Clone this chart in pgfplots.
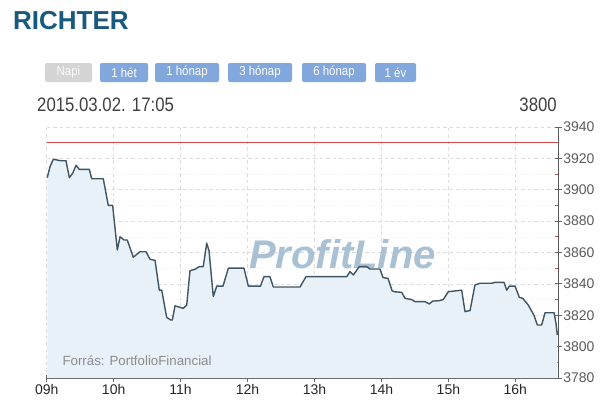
\documentclass[border=0pt]{standalone}
\usepackage{pgfplots}
\pgfplotsset{compat=1.18}
\usepackage{pgfplotstable}
\usepackage{fontspec}
\setmainfont{Liberation Sans}
\definecolor{titleblue}{HTML}{17597F}
\definecolor{btnblue}{HTML}{82A7DC}
\definecolor{btngray}{HTML}{D4D4D4}
\definecolor{linecol}{HTML}{3E5566}
\definecolor{fillcol}{HTML}{E8F0F8}
\definecolor{redcol}{HTML}{D04545}
\definecolor{gridcol}{HTML}{DCDCDC}
\definecolor{wmcol}{HTML}{A9C1D3}
\definecolor{labcol}{HTML}{5A5A5A}

\pgfplotstableread{
m v
0.5 3907.7
3.0 3914.7
5.9 3919.4
9.0 3919.0
12.5 3918.5
17.3 3918.5
20.3 3907.7
23.3 3910.5
26.3 3915.6
29.2 3913.0
38.2 3913.0
40.3 3907.0
50.7 3907.0
55.2 3890.0
59.1 3890.0
63.3 3861.6
65.7 3870.0
69.3 3868.0
72.2 3868.0
77.6 3857.0
83.6 3860.5
89.0 3860.5
92.6 3855.7
97.1 3855.0
100.9 3836.0
103.1 3836.0
107.5 3818.7
111.1 3817.0
112.6 3817.0
115.0 3826.0
122.4 3824.4
125.5 3826.5
128.4 3848.4
132.9 3849.3
136.8 3851.0
140.3 3851.0
143.4 3866.0
145.5 3861.0
149.3 3832.0
152.4 3838.6
158.0 3838.6
162.8 3850.0
176.8 3850.0
180.7 3838.6
191.6 3838.6
194.7 3844.6
200.1 3844.6
203.1 3838.0
227.0 3838.0
232.4 3844.6
268.9 3844.6
271.8 3847.8
274.8 3845.7
280.2 3851.0
286.8 3851.0
289.7 3849.5
298.7 3849.5
301.4 3844.0
305.9 3843.5
309.5 3835.7
311.3 3835.0
318.2 3834.6
321.1 3830.8
327.1 3830.0
330.1 3828.7
339.0 3828.7
342.9 3827.2
345.9 3829.0
351.9 3829.3
355.4 3830.0
359.9 3835.0
371.9 3836.0
374.9 3822.3
379.4 3823.0
383.8 3839.3
388.3 3840.4
398.8 3840.4
401.8 3841.0
409.8 3841.0
412.3 3836.0
414.6 3838.6
419.7 3838.6
423.6 3831.4
426.6 3830.8
431.6 3826.5
436.7 3820.0
439.7 3813.8
443.6 3813.8
446.6 3821.6
454.7 3821.6
456.4 3815.0
457.6 3807.4
}\prices

\begin{document}
\begin{tikzpicture}
\path[use as bounding box] (0pt,0pt) rectangle (608pt,-418pt);
% title
\node[anchor=base west, inner sep=0, text=titleblue, font=\bfseries\fontsize{26}{26}\selectfont] at (13pt,-29.5pt) {RICHTER};
% buttons
\fill[btngray, rounded corners=2pt] (45pt,-63pt) rectangle (92pt,-82pt);
\node[text=white!96!gray, font=\fontsize{13}{13}\selectfont] at (68.5pt,-72.5pt) {\scalebox{0.88}[1]{Napi}};
\foreach \a/\b/\t in {100/148/{1 hét}, 155/219/{1 hónap}, 228/292/{3 hónap}, 302/366/{6 hónap}, 375/416/{1 év}}{
  \fill[btnblue, rounded corners=2pt] (\a pt,-63pt) rectangle (\b pt,-82pt);
  \pgfmathsetmacro{\c}{(\a+\b)/2}
  \node[text=white, font=\fontsize{13}{13}\selectfont] at (\c pt,-72.5pt) {\scalebox{0.88}[1]{\t}};
}
% date and price
\node[anchor=base west, inner sep=0, text=black!75, font=\fontsize{19.5}{20}\selectfont] at (37pt,-111.5pt) {\scalebox{0.86}[1]{2015.03.02. 17:05}};
\node[anchor=base east, inner sep=0, text=black!75, font=\fontsize{19.5}{20}\selectfont] at (557pt,-111.5pt) {\scalebox{0.86}[1]{3800}};

\begin{axis}[
  at={(46.7pt,-378pt)}, anchor=south west,
  scale only axis, width=511.6pt, height=251pt,
  xmin=0, xmax=458.5, ymin=3780, ymax=3940,
  axis x line*=bottom, axis y line*=right,
  axis line style={draw=black!65, line width=0.8pt},
  xtick={0,60,...,420},
  xticklabels={09h,10h,11h,12h,13h,14h,15h,16h},
  ytick={3780,3800,...,3940},
  minor y tick num=1,
  xmajorgrids, ymajorgrids, yminorgrids,
  major grid style={draw=gridcol, dash pattern=on 3.5pt off 3pt, line width=0.6pt},
  minor grid style={draw=gridcol!55, dash pattern=on 1pt off 2pt, line width=0.5pt},
  tick align=center,
  major tick length=7pt,
  minor tick length=3pt,
  major tick style={draw=black!60, line width=0.8pt},
  minor tick style={draw=redcol, line width=0.8pt, xshift=-1.5pt},
  /pgf/number format/assume math mode=true,
  /pgf/number format/1000 sep={},
  yticklabel style={font=\fontsize{14}{14}\selectfont, text=labcol, anchor=west, xshift=-2pt},
  xticklabel style={font=\fontsize{14}{14}\selectfont, text=black!85, yshift=1pt},
  clip=false,
]
\addplot[fill=fillcol, draw=none] table[x=m, y=v] {\prices} \closedcycle;
\node[text=wmcol, font=\bfseries\itshape\fontsize{40}{40}\selectfont, anchor=base] at (axis cs:265,3850) {ProfitLine};
\node[text=black!45, font=\fontsize{13.3}{14}\selectfont, anchor=base west, inner sep=0] at (axis cs:14,3788) {Forrás: PortfolioFinancial};
\addplot[draw=redcol, line width=1.2pt] coordinates {(0,3930) (458.5,3930)};
\addplot[draw=linecol, line width=1.4pt, line join=round] table[x=m, y=v] {\prices};
\end{axis}
\end{tikzpicture}
\end{document}
